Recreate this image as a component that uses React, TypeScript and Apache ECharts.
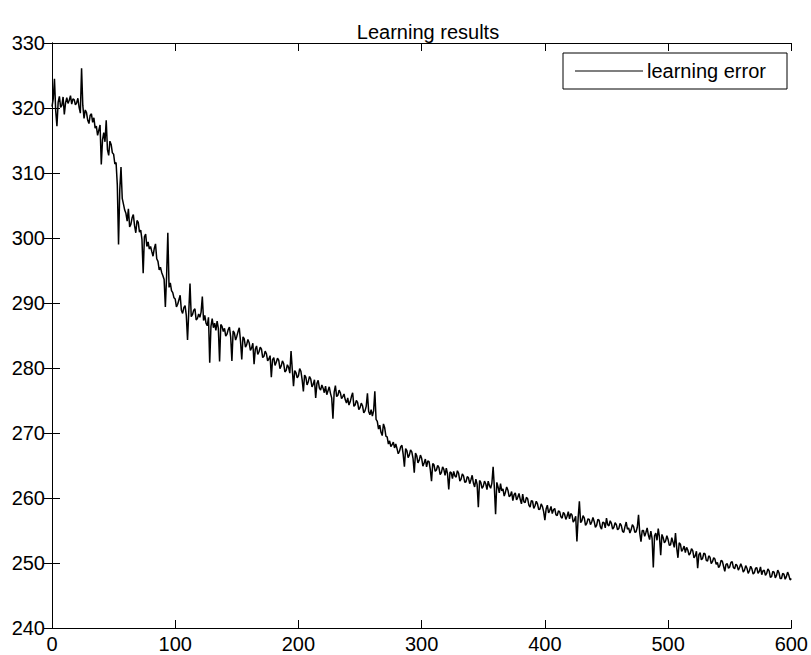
import React, { useEffect, useRef } from "react";
import * as echarts from "echarts";

const chartTitle = "Learning results";
const seriesName = "learning error";
const xStep = 1;
const xTicks = [0, 100, 200, 300, 400, 500, 600];
const yTicks = [240, 250, 260, 270, 280, 290, 300, 310, 320, 330];

// learning error per iteration (0..600), 20 iterations per row
const errorValues = [
  320.2, 321.4, 324.5, 319.6, 317.2, 320.9, 321.8, 320.1, 320.4, 321.7, 319.0, 320.8, 321.6, 320.7, 321.2, 321.9, 320.6, 321.4, 321.3, 320.5,
  320.8, 321.5, 320.1, 319.2, 326.1, 320.4, 318.4, 319.7, 319.3, 318.1, 317.6, 318.9, 319.1, 317.8, 318.5, 316.9, 317.2, 315.8, 316.6, 317.4,
  311.3, 315.1, 316.2, 314.8, 318.1, 313.6, 312.7, 314.9, 314.4, 313.1, 312.9, 311.4, 311.6, 308.2, 299.0, 307.4, 310.9, 306.1, 305.2, 304.3,
  303.8, 302.6, 304.5, 301.7, 302.1, 303.1, 303.6, 301.9, 300.8, 302.7, 302.4, 300.9, 301.2, 299.8, 294.6, 300.2, 300.6, 298.7, 299.4, 298.3,
  298.7, 297.9, 297.2, 298.4, 299.1, 296.8, 296.4, 295.1, 295.5, 294.7, 294.2, 293.6, 289.4, 294.1, 300.8, 292.4, 293.1, 291.9, 291.6, 290.8,
  290.6, 289.4, 289.8, 290.5, 291.2, 288.9, 288.4, 289.3, 289.6, 288.1, 284.3, 288.7, 293.0, 287.9, 288.2, 288.9, 289.1, 287.4, 287.6, 288.3,
  287.8, 288.6, 291.0, 287.3, 288.1, 286.9, 286.5, 287.8, 280.8, 286.4, 287.6, 286.2, 286.9, 285.8, 287.2, 286.1, 281.0, 286.7, 286.4, 285.6,
  286.1, 284.9, 285.2, 285.9, 286.3, 284.8, 281.1, 285.7, 285.4, 284.3, 284.9, 285.6, 286.2, 284.1, 281.3, 284.8, 284.5, 283.2, 283.6, 284.4,
  283.9, 282.7, 283.1, 283.8, 280.6, 282.9, 283.4, 282.1, 282.5, 283.2, 282.9, 281.6, 281.8, 282.6, 282.2, 281.1, 281.4, 281.9, 278.6, 281.3,
  281.6, 280.4, 280.9, 281.5, 281.2, 279.9, 280.3, 281.1, 280.7, 279.4, 279.6, 280.5, 280.1, 279.2, 282.6, 279.8, 277.2, 279.6, 279.3, 278.5,
  278.8, 279.9, 279.5, 278.2, 276.4, 278.9, 278.6, 277.4, 277.9, 278.7, 278.3, 277.1, 277.5, 278.2, 275.4, 277.6, 278.1, 276.9, 276.6, 277.4,
  276.9, 276.2, 277.2, 275.9, 276.5, 277.1, 276.1, 275.4, 272.2, 276.3, 277.3, 275.6, 275.8, 276.6, 276.2, 275.3, 275.6, 276.0, 275.1, 274.6,
  275.4, 274.3, 274.8, 275.6, 276.2, 274.1, 274.3, 275.0, 274.7, 273.6, 273.9, 274.6, 274.2, 273.1, 273.4, 274.1, 276.1, 273.3, 272.8, 273.6,
  272.6, 273.4, 276.4, 272.1, 271.8, 270.6, 271.2, 270.1, 269.6, 271.4, 270.8, 269.5, 269.4, 268.3, 268.8, 267.9, 268.2, 268.6, 267.7, 268.3,
  267.6, 266.8, 267.2, 267.9, 268.1, 266.7, 264.8, 267.6, 267.3, 266.2, 266.6, 267.4, 267.1, 266.1, 263.9, 266.9, 266.5, 265.4, 265.8, 266.6,
  266.1, 264.9, 265.4, 266.0, 264.8, 265.7, 265.6, 264.4, 262.6, 265.3, 265.1, 264.1, 264.3, 265.0, 264.7, 263.6, 263.9, 264.8, 264.4, 263.5,
  264.6, 263.7, 261.3, 264.0, 263.9, 263.0, 264.1, 263.4, 263.2, 264.2, 263.8, 262.6, 262.9, 263.7, 263.4, 262.4, 262.5, 263.3, 263.1, 262.2,
  262.8, 263.5, 262.3, 261.7, 262.9, 262.1, 258.6, 262.7, 262.4, 261.5, 261.8, 262.6, 262.2, 261.3, 262.6, 261.9, 261.5, 262.3, 264.8, 261.6,
  257.5, 262.4, 261.7, 260.8, 262.2, 261.1, 261.4, 260.3, 260.9, 261.7, 261.2, 260.2, 260.4, 261.0, 259.6, 260.5, 260.8, 259.7, 260.1, 260.7,
  259.8, 259.1, 260.6, 259.4, 259.3, 260.1, 259.9, 258.9, 258.6, 259.6, 259.5, 258.4, 258.8, 259.5, 259.1, 258.2, 258.3, 259.1, 258.7, 257.9,
  256.6, 258.3, 258.9, 257.7, 258.1, 258.7, 257.6, 258.2, 258.4, 257.4, 257.3, 258.0, 257.9, 257.1, 256.9, 257.8, 257.5, 256.7, 257.2, 257.9,
  256.8, 257.6, 257.4, 256.3, 256.6, 257.2, 253.3, 256.9, 259.5, 256.2, 256.5, 257.3, 256.9, 255.8, 256.1, 256.8, 256.7, 255.9, 256.3, 257.0,
  256.4, 255.5, 255.8, 256.7, 256.6, 255.6, 255.2, 256.3, 256.2, 255.4, 256.9, 255.9, 255.7, 256.5, 256.1, 255.2, 255.5, 256.2, 255.9, 255.1,
  255.3, 256.1, 255.8, 254.9, 254.7, 255.6, 256.3, 255.2, 255.4, 254.6, 255.1, 255.9, 255.6, 254.7, 254.8, 255.5, 257.4, 254.6, 253.3, 255.0,
  255.0, 254.1, 254.7, 255.4, 254.3, 253.6, 254.9, 253.8, 249.3, 254.2, 254.6, 253.5, 255.3, 254.0, 251.2, 254.4, 253.9, 253.1, 253.4, 254.2,
  253.6, 252.7, 252.8, 253.9, 253.2, 252.4, 254.6, 252.3, 250.8, 253.1, 252.9, 251.8, 252.1, 252.6, 251.6, 252.4, 252.0, 251.2, 251.5, 252.2,
  251.9, 250.8, 251.1, 251.8, 249.2, 251.3, 251.6, 250.5, 250.7, 251.5, 251.4, 250.4, 250.3, 251.1, 250.9, 249.9, 250.2, 250.8, 250.6, 249.8,
  250.1, 249.3, 249.6, 250.4, 250.3, 249.5, 248.7, 249.8, 249.9, 249.2, 249.4, 250.1, 250.2, 249.3, 249.1, 249.8, 249.6, 248.9, 249.3, 249.9,
  249.4, 248.6, 248.9, 249.6, 249.2, 248.4, 248.8, 249.5, 249.1, 248.3, 248.5, 249.2, 249.3, 248.4, 248.7, 249.4, 248.2, 248.8, 248.9, 248.1,
  248.4, 249.1, 248.8, 247.8, 247.9, 248.7, 248.6, 247.7, 248.1, 248.9, 248.5, 247.6, 247.6, 248.4, 248.3, 247.5, 247.9, 248.6, 248.1, 247.4,
  247.6,
];

const FONT = "'Liberation Sans', Arial, sans-serif";

export default function App() {
  const ref = useRef<HTMLDivElement>(null);

  useEffect(() => {
    if (!ref.current) return;
    const chart = echarts.init(ref.current, undefined, { renderer: "svg" });
    const data = errorValues.map((v, i) => [i * xStep, v]);
    const gridLeft = 52;
    const gridRight = 17;
    const gridTop = 43;
    const gridBottom = 27;
    const axisLineStyle = { color: "#000", width: 1 };
    const tickStyle = { show: true, inside: true, length: 8, lineStyle: { color: "#000", width: 1 } };

    chart.setOption({
      animation: false,
      backgroundColor: "#fff",
      title: {
        text: chartTitle,
        left: gridLeft + (811 - gridLeft - gridRight) / 2,
        textAlign: "center",
        top: 17,
        textStyle: { fontFamily: FONT, fontSize: 20, fontWeight: "normal", color: "#000" },
      },
      grid: { left: gridLeft, right: gridRight, top: gridTop, bottom: gridBottom, containLabel: false },
      xAxis: [
        {
          type: "value",
          min: xTicks[0],
          max: xTicks[xTicks.length - 1],
          interval: 100,
          position: "bottom",
          axisLine: { show: true, lineStyle: axisLineStyle },
          axisTick: tickStyle,
          splitLine: { show: false },
          axisLabel: { margin: 6, fontFamily: FONT, fontSize: 20, color: "#000" },
        },
        {
          type: "value",
          min: xTicks[0],
          max: xTicks[xTicks.length - 1],
          interval: 100,
          position: "top",
          axisLine: { show: true, lineStyle: axisLineStyle },
          axisTick: tickStyle,
          splitLine: { show: false },
          axisLabel: { show: false },
        },
      ],
      yAxis: [
        {
          type: "value",
          min: yTicks[0],
          max: yTicks[yTicks.length - 1],
          interval: 10,
          position: "left",
          axisLine: { show: true, lineStyle: axisLineStyle },
          axisTick: tickStyle,
          splitLine: { show: false },
          axisLabel: { margin: 7, fontFamily: FONT, fontSize: 20, color: "#000" },
        },
        {
          type: "value",
          min: yTicks[0],
          max: yTicks[yTicks.length - 1],
          interval: 10,
          position: "right",
          axisLine: { show: true, lineStyle: axisLineStyle },
          axisTick: tickStyle,
          splitLine: { show: false },
          axisLabel: { show: false },
        },
      ],
      graphic: [
        {
          type: "rect",
          shape: { x: 563, y: 53, width: 224, height: 36 },
          style: { fill: "#fff", stroke: "#000", lineWidth: 1 },
          z: 100,
        },
        {
          type: "line",
          shape: { x1: 575, y1: 71, x2: 643, y2: 71 },
          style: { stroke: "#000", lineWidth: 1.2 },
          z: 101,
        },
        {
          type: "text",
          x: 647,
          y: 71,
          style: {
            text: seriesName,
            fontFamily: FONT,
            fontSize: 20,
            fill: "#000",
            verticalAlign: "middle",
            align: "left",
          },
          z: 101,
        },
      ],
      series: [
        {
          name: seriesName,
          type: "line",
          data,
          symbol: "none",
          lineStyle: { color: "#000", width: 1.5 },
          xAxisIndex: 0,
          yAxisIndex: 0,
        },
      ],
    });
    return () => chart.dispose();
  }, []);

  return (
    <div
      ref={ref}
      style={{ position: "fixed", left: 0, top: 0, width: 811, height: 655, background: "#fff" }}
    />
  );
}
